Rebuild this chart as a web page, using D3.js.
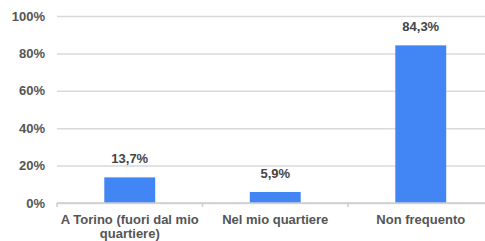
<!DOCTYPE html>
<html>
<head>
<meta charset="utf-8">
<script src="https://cdn.jsdelivr.net/npm/d3@7"></script>
<style>
  body { margin: 0; background: #fff; }
  svg { display: block; font-family: "Liberation Sans", Arial, sans-serif; }
</style>
</head>
<body>
<div class="chart_contain"></div>
<script>
// chart data
var categories = ["A Torino (fuori dal mio quartiere)", "Nel mio quartiere", "Non frequento"];
var values = [13.7, 5.9, 84.3];
var valueLabels = ["13,7%", "5,9%", "84,3%"];
var yTicks = [0, 20, 40, 60, 80, 100];

function drawChart(container){
  var svg_width = 485;
  var svg_height = 241;
  var margins = { top: 16, bottom: 38, right: -8.5, left: 57 };

  var height = svg_height - margins.top - margins.bottom;
  var width = svg_width - margins.left - margins.right;

  var svg = d3.select(container)
              .append("svg")
              .attr("width", svg_width)
              .attr("height", svg_height);

  var svg_g = svg.append("g")
                 .attr("transform", "translate(" + margins.left + "," + margins.top + ")");

  var x = d3.scaleBand()
            .domain(categories)
            .range([0, width]);

  var y = d3.scaleLinear()
            .domain([0, 100])
            .range([height, 0]);

  var barW = x.bandwidth() * 0.35;

  // gridlines
  var yGridlines = d3.axisLeft()
                     .scale(y)
                     .tickValues(yTicks)
                     .tickSize(-width)
                     .tickFormat("");

  var grid = svg_g.append("g")
       .attr("class", "y grid")
       .call(yGridlines);
  grid.select(".domain").remove();
  grid.selectAll("line").style("stroke", "#d9d9d9").style("stroke-width", 1.5);

  // y labels
  var yAxis = d3.axisLeft()
                .scale(y)
                .tickValues(yTicks)
                .tickSize(0)
                .tickPadding(12)
                .tickFormat(d => d + "%");

  var yAx = svg_g.append("g")
       .attr("class", "y axis")
       .call(yAxis);
  yAx.select(".domain").remove();
  yAx.selectAll("text")
     .style("font-size", "13px")
     .style("font-weight", "bold")
     .style("fill", "#555")
     .style("font-family", "Liberation Sans, Arial, sans-serif");

  // bars
  svg_g.selectAll("rect.bar")
       .data(values)
       .enter()
       .append("rect")
       .attr("class", "bar")
       .attr("x", (d, i) => x(categories[i]) + (x.bandwidth() - barW) / 2)
       .attr("y", d => y(d))
       .attr("width", barW)
       .attr("height", d => height - y(d))
       .style("fill", "#4285f4");

  // value labels
  svg_g.selectAll("text.val")
       .data(values)
       .enter()
       .append("text")
       .attr("class", "val")
       .attr("x", (d, i) => x(categories[i]) + x.bandwidth() / 2)
       .attr("y", d => y(d) - 14)
       .attr("text-anchor", "middle")
       .style("font-size", "13px")
       .style("font-weight", "bold")
       .style("fill", "#444")
       .text((d, i) => valueLabels[i]);

  // x axis: baseline + boundary ticks
  svg_g.append("line")
       .attr("x1", 0).attr("x2", width)
       .attr("y1", height).attr("y2", height)
       .style("stroke", "#ccc")
       .style("stroke-width", 1.5);

  var bounds = x.domain().map(d => x(d)).concat([width]);
  svg_g.selectAll("line.xtick")
       .data(bounds)
       .enter()
       .append("line")
       .attr("class", "xtick")
       .attr("x1", d => d).attr("x2", d => d)
       .attr("y1", height).attr("y2", height + 4)
       .style("stroke", "#ccc")
       .style("stroke-width", 1.5);

  // category labels, wrapped
  var wrapW = 145;
  svg_g.selectAll("text.cat")
       .data(categories)
       .enter()
       .append("text")
       .attr("class", "cat")
       .attr("x", d => x(d) + x.bandwidth() / 2)
       .attr("y", height + 21)
       .attr("text-anchor", "middle")
       .style("font-size", "13px")
       .style("font-weight", "bold")
       .style("fill", "#555")
       .each(function(d){
         var t = d3.select(this);
         var words = d.split(" ");
         var line = [];
         var tspan = t.append("tspan").attr("x", t.attr("x")).attr("dy", 0);
         words.forEach(w => {
           line.push(w);
           tspan.text(line.join(" "));
           if (tspan.node().getComputedTextLength() > wrapW && line.length > 1) {
             line.pop();
             tspan.text(line.join(" "));
             line = [w];
             tspan = t.append("tspan").attr("x", t.attr("x")).attr("dy", 14).text(w);
           }
         });
       });
}

drawChart(".chart_contain");
</script>
</body>
</html>
